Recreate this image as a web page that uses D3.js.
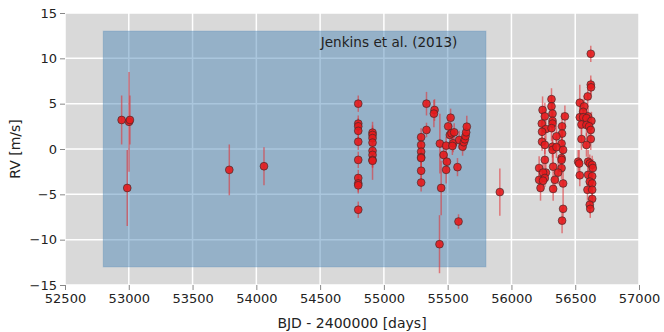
<!DOCTYPE html>
<html>
<head>
<meta charset="utf-8">
<script src="https://cdn.jsdelivr.net/npm/d3@7"></script>
<style>
  body { margin: 0; background: #fff; }
  svg { display: block; font-family: "DejaVu Sans", sans-serif; }
</style>
</head>
<body>
<svg id="chart" width="664" height="332"></svg>
<script>
// data
var bjd = [
    52944, 53002, 53009, 52988, 53788, 54060,
    54799, 54799, 54799, 54799, 54799, 54799, 54799, 54799, 54799, 54799,
    54911, 54911, 54911, 54911, 54911, 54911, 54911, 54911,
    55292, 55292, 55292, 55292, 55292, 55292, 55292,
    55334, 55334, 55397, 55392, 55523, 55504, 55439, 55488, 55517, 55530,
    55551, 55543, 55537, 55590, 55617, 55627, 55635, 55640, 55645, 55650,
    55468, 55494, 55488, 55577, 55449, 55585, 55436, 55909,
    56244, 56314, 56314, 56322, 56262, 56419, 56238, 56322, 56322, 56270,
    56240, 56314, 56397, 56397, 56353, 56240, 56262, 56393, 56322, 56322,
    56353, 56405, 56393, 56393, 56262, 56217, 56327, 56393, 56270, 56248,
    56366, 56217, 56262, 56248, 56340, 56405, 56228, 56327, 56405, 56397,
    56622, 56622, 56624, 56598, 56536, 56570, 56562, 56601, 56536, 56562,
    56588, 56627, 56549, 56588, 56609, 56622, 56549, 56622, 56588, 56523,
    56531, 56601, 56614, 56633, 56638, 56536, 56601, 56633, 56614, 56633,
    56596, 56633, 56633, 56614, 56618
];
var rv = [
    3.2, 3.0, 3.2, -4.3, -2.3, -1.9,
    5.0, 2.8, 2.5, 2.0, 0.8, -1.2, -3.2, -3.8, -4.0, -6.7,
    1.8, 1.55, 1.2, 0.7, -0.2, -0.65, -1.2, -1.3,
    1.3, 0.45, -0.3, -0.9, -1.0, -2.4, -3.7,
    5.0, 2.1, 4.3, 3.9, 3.45, 2.5, 0.6, 0.37, 1.55, 1.73,
    1.84, 0.63, 0.34, 1.0, 0.26, 0.74, 1.07, 1.43, 1.84, 2.46,
    -0.65, -1.4, -2.3, -2.0, -4.3, -8.0, -10.5, -4.75,
    4.3, 5.5, 4.7, 3.9, 3.6, 3.6, 2.8, 3.1, 2.8, 2.2,
    1.9, 2.3, 2.5, 1.7, 1.4, 0.8, 0.45, 0.6, 0.25, -0.1,
    0.2, -0.1, -1.0, -1.2, -1.2, -2.1, -1.95, -2.1, -2.6, -2.6,
    -2.6, -3.4, -3.2, -3.5, -3.4, -3.8, -4.3, -4.4, -6.6, -7.9,
    10.5, 7.1, 6.8, 5.8, 5.1, 4.7, 4.1, 3.6, 3.5, 3.5,
    3.4, 3.1, 2.7, 2.65, 2.5, 2.1, 1.1, 1.1, 0.45, -1.4,
    -1.6, -1.4, -1.6, -1.75, -2.1, -2.9, -2.85, -3.0, -3.6, -3.8,
    -4.5, -4.5, -5.5, -6.15, -6.6
];
var err = [
    2.7, 5.5, 2.7, 4.2, 2.8, 2.1,
    0.9, 0.9, 0.9, 0.9, 0.9, 0.9, 0.9, 0.9, 0.9, 0.9,
    0.8, 0.8, 0.8, 0.8, 3.2, 0.8, 0.8, 0.8,
    1.0, 1.0, 1.0, 1.0, 1.0, 1.0, 1.0,
    1.3, 0.8, 1.2, 1.5, 1.0, 1.0, 3.3, 1.0, 1.0, 1.0,
    1.0, 1.0, 1.0, 1.0, 1.0, 1.0, 1.0, 1.0, 1.0, 1.2,
    1.0, 1.0, 1.5, 1.0, 3.0, 0.8, 3.2, 2.6,
    1.5, 1.2, 1.2, 1.3, 1.5, 1.2, 1.3, 1.0, 1.0, 1.3,
    1.2, 1.4, 1.5, 1.2, 1.2, 1.0, 1.0, 1.0, 1.2, 1.5,
    1.2, 1.0, 1.2, 1.2, 1.3, 1.3, 1.5, 1.2, 1.0, 1.0,
    1.3, 1.2, 1.0, 1.0, 1.3, 1.5, 1.4, 1.3, 1.3, 1.4,
    0.9, 1.0, 0.9, 1.1, 2.0, 1.2, 1.3, 1.2, 1.3, 1.2,
    1.0, 1.0, 1.3, 1.2, 1.2, 1.0, 1.2, 1.2, 1.3, 1.3,
    1.5, 1.3, 1.0, 1.0, 1.0, 1.2, 1.2, 1.0, 1.0, 1.0,
    1.2, 1.0, 1.0, 1.0, 1.0
];

var xDomain = [52500, 57000];
var yDomain = [-15, 15];
var xTicks = [52500, 53000, 53500, 54000, 54500, 55000, 55500, 56000, 56500, 57000];
var yTicks = [-15, -10, -5, 0, 5, 10, 15];

// shaded span of the earlier data set
var spanX = [52800, 55800];
var spanY = [-13, 13];
var spanLabel = "Jenkins et al. (2013)";

var points = bjd.map(function(d, i){
    return { t: d, rv: rv[i], err: err[i] };
});

var svg = d3.select("#chart"),
    margin = { top: 13, right: 25, bottom: 47, left: 65 },
    width = +svg.attr("width") - margin.left - margin.right,
    height = +svg.attr("height") - margin.top - margin.bottom,
    g = svg.append("g").attr("transform", "translate(" + margin.left + "," + margin.top + ")");

var x = d3.scaleLinear().domain(xDomain).range([0, width]),
    y = d3.scaleLinear().domain(yDomain).range([height, 0]);

// background
g.append("rect")
 .attr("width", width)
 .attr("height", height)
 .attr("fill", "#d9d9d9");

// grid
g.append("g")
 .selectAll("line")
 .data(xTicks)
 .enter().append("line")
 .attr("x1", function(d){ return x(d); })
 .attr("x2", function(d){ return x(d); })
 .attr("y1", 0)
 .attr("y2", height)
 .attr("stroke", "#fff")
 .attr("stroke-width", 1.5);

g.append("g")
 .selectAll("line")
 .data(yTicks)
 .enter().append("line")
 .attr("y1", function(d){ return y(d); })
 .attr("y2", function(d){ return y(d); })
 .attr("x1", 0)
 .attr("x2", width)
 .attr("stroke", "#fff")
 .attr("stroke-width", 1.5);

// span
g.append("rect")
 .attr("x", x(spanX[0]))
 .attr("y", y(spanY[1]))
 .attr("width", x(spanX[1]) - x(spanX[0]))
 .attr("height", y(spanY[0]) - y(spanY[1]))
 .attr("fill", "steelblue")
 .attr("fill-opacity", 0.46)
 .attr("stroke", "steelblue")
 .attr("stroke-opacity", 0.3);

g.append("text")
 .attr("x", x(54505))
 .attr("y", y(11.2))
 .attr("fill", "#222")
 .style("font-size", "13.6px")
 .text(spanLabel);

// error bars
g.append("g")
 .selectAll("line")
 .data(points)
 .enter().append("line")
 .attr("x1", function(d){ return x(d.t); })
 .attr("x2", function(d){ return x(d.t); })
 .attr("y1", function(d){ return y(d.rv - d.err); })
 .attr("y2", function(d){ return y(d.rv + d.err); })
 .attr("stroke", "#e0363b")
 .attr("stroke-opacity", 0.6)
 .attr("stroke-width", 1.5);

// points
g.append("g")
 .selectAll("circle")
 .data(points)
 .enter().append("circle")
 .attr("cx", function(d){ return x(d.t); })
 .attr("cy", function(d){ return y(d.rv); })
 .attr("r", 3.9)
 .attr("fill", "#e41a1c")
 .attr("fill-opacity", 0.9)
 .attr("stroke", "#3a2a2a")
 .attr("stroke-opacity", 0.8)
 .attr("stroke-width", 0.8);

// axes
var xAxis = g.append("g")
  .attr("transform", "translate(0," + height + ")")
  .call(d3.axisBottom(x).tickValues(xTicks).tickFormat(d3.format("d")).tickSize(5).tickPadding(4));
var yAxis = g.append("g")
  .call(d3.axisLeft(y).tickValues(yTicks).tickSize(5).tickPadding(3));

[xAxis, yAxis].forEach(function(a){
    a.select(".domain").remove();
    a.selectAll(".tick line").attr("stroke", "#888");
    a.selectAll(".tick text")
     .attr("fill", "#222")
     .style("font-size", "13px")
     .style("font-family", "DejaVu Sans, sans-serif");
});

// labels
svg.append("text")
   .attr("x", margin.left + width / 2)
   .attr("y", 328)
   .attr("text-anchor", "middle")
   .attr("fill", "#222")
   .style("font-size", "14px")
   .text("BJD - 2400000 [days]");

svg.append("text")
   .attr("transform", "translate(20," + (margin.top + height / 2) + ") rotate(-90)")
   .attr("text-anchor", "middle")
   .attr("fill", "#222")
   .style("font-size", "14px")
   .text("RV [m/s]");
</script>
</body>
</html>
